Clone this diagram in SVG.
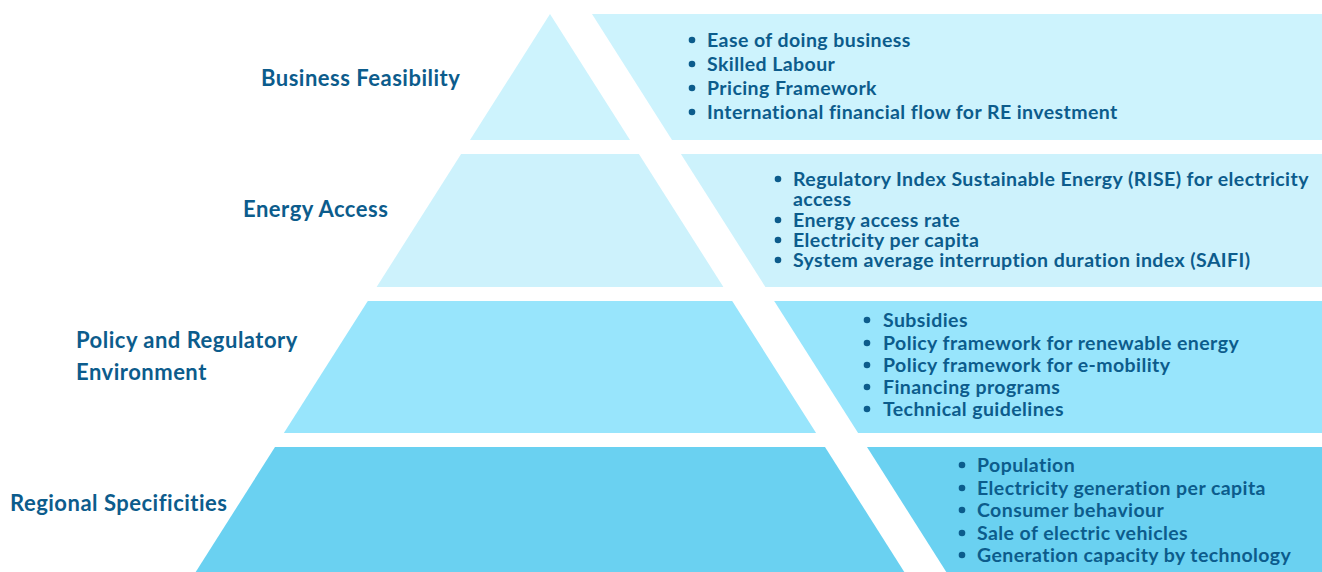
<svg xmlns="http://www.w3.org/2000/svg" width="1322" height="572" viewBox="0 0 1322 572">
<style>
.t1{fill:#CDF3FD}
.t2{fill:#CDF2FC}
.t3{fill:#98E5FC}
.t4{fill:#6AD1F1}
.lbl{font-family:Lato,"Open Sans",sans-serif;font-weight:700;font-size:22px;letter-spacing:0.5px;fill:#0C5C8C}
.it{font-family:Lato,"Open Sans",sans-serif;font-weight:700;font-size:19.5px;letter-spacing:0.42px;fill:#0C5C8C}
.dot{fill:#0C5C8C}
</style>
<rect width="1322" height="572" fill="#FFFFFF"/>
<g id="tier-business-feasibility">
  <polygon class="t1" points="550,14 630,140 470,140"/>
  <polygon class="t1" points="592,14 1322,14 1322,140 672,140"/>
  <text class="lbl" x="261" y="86">Business Feasibility</text>
  <circle class="dot" cx="692" cy="40" r="3.3"/>
  <circle class="dot" cx="692" cy="64" r="3.3"/>
  <circle class="dot" cx="692" cy="88" r="3.3"/>
  <circle class="dot" cx="692" cy="112" r="3.3"/>
  <text class="it" x="707" y="47">Ease of doing business</text>
  <text class="it" x="707" y="71">Skilled Labour</text>
  <text class="it" x="707" y="95">Pricing Framework</text>
  <text class="it" x="707" y="119">International financial flow for RE investment</text>
</g>
<g id="tier-energy-access">
  <polygon class="t2" points="461.1,154 638.9,154 723.4,287 376.6,287"/>
  <polygon class="t2" points="680.9,154 1322,154 1322,287 765.4,287"/>
  <text class="lbl" x="243" y="217">Energy Access</text>
  <circle class="dot" cx="778" cy="179" r="3.3"/>
  <circle class="dot" cx="778" cy="220" r="3.3"/>
  <circle class="dot" cx="778" cy="240" r="3.3"/>
  <circle class="dot" cx="778" cy="260" r="3.3"/>
  <text class="it" x="793" y="186">Regulatory Index Sustainable Energy (RISE) for electricity</text>
  <text class="it" x="793" y="206">access</text>
  <text class="it" x="793" y="227">Energy access rate</text>
  <text class="it" x="793" y="247">Electricity per capita</text>
  <text class="it" x="793" y="267">System average interruption duration index (SAIFI)</text>
</g>
<g id="tier-policy">
  <polygon class="t3" points="367.8,301 732.2,301 816.1,433 283.9,433"/>
  <polygon class="t3" points="774.2,301 1322,301 1322,433 858.1,433"/>
  <text class="lbl" x="76" y="348">Policy and Regulatory</text>
  <text class="lbl" x="76" y="380">Environment</text>
  <circle class="dot" cx="867" cy="320" r="3.3"/>
  <circle class="dot" cx="867" cy="343" r="3.3"/>
  <circle class="dot" cx="867" cy="365" r="3.3"/>
  <circle class="dot" cx="867" cy="387" r="3.3"/>
  <circle class="dot" cx="867" cy="409" r="3.3"/>
  <text class="it" x="883" y="327">Subsidies</text>
  <text class="it" x="883" y="350">Policy framework for renewable energy</text>
  <text class="it" x="883" y="372">Policy framework for e-mobility</text>
  <text class="it" x="883" y="394">Financing programs</text>
  <text class="it" x="883" y="416">Technical guidelines</text>
</g>
<g id="tier-regional">
  <polygon class="t4" points="275,447 825,447 904.3,572 195.7,572"/>
  <polygon class="t4" points="867,447 1322,447 1322,572 946.3,572"/>
  <text class="lbl" x="10" y="511">Regional Specificities</text>
  <circle class="dot" cx="962" cy="465" r="3.3"/>
  <circle class="dot" cx="962" cy="488" r="3.3"/>
  <circle class="dot" cx="962" cy="510" r="3.3"/>
  <circle class="dot" cx="962" cy="533" r="3.3"/>
  <circle class="dot" cx="962" cy="555" r="3.3"/>
  <text class="it" x="977" y="472">Population</text>
  <text class="it" x="977" y="495">Electricity generation per capita</text>
  <text class="it" x="977" y="517">Consumer behaviour</text>
  <text class="it" x="977" y="540">Sale of electric vehicles</text>
  <text class="it" x="977" y="562">Generation capacity by technology</text>
</g>
</svg>
